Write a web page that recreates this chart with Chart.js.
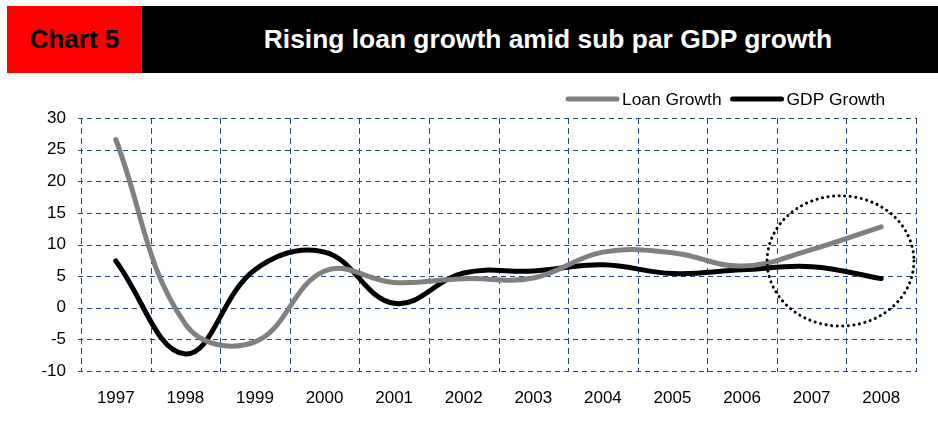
<!DOCTYPE html>
<html>
<head>
<meta charset="utf-8">
<script src="https://cdn.jsdelivr.net/npm/chart.js@4/dist/chart.umd.min.js"></script>
<style>
  body { margin: 0; background: #fff; }
  #wrap { position: relative; width: 938px; height: 428px; }
  #chart { position: absolute; left: 0; top: 0; }
  .hdr { position: absolute; top: 6px; height: 67px; line-height: 67px; font-family: "Liberation Sans", Arial, sans-serif; font-weight: bold; font-size: 26px; text-align: center; }
  #tag { left: 7px; width: 135px; background: #ff0000; color: #000; }
  #title { left: 142px; width: 796px; background: #000; color: #fff; padding-left: 16px; box-sizing: border-box; font-size: 26.4px; }
</style>
</head>
<body>
<div id="wrap">
  <canvas id="chart" width="938" height="428"></canvas>
  <div class="hdr" id="tag">Chart 5</div>
  <div class="hdr" id="title">Rising loan growth amid sub par GDP growth</div>
</div>
<script>
const years = ["1997", "1998", "1999", "2000", "2001", "2002", "2003", "2004", "2005", "2006", "2007", "2008"];
const loanGrowth = [26.6, -2.6, -5.4, 5.8, 4.0, 4.6, 4.7, 8.8, 8.7, 6.6, 9.2, 12.8];
const gdpGrowth = [7.4, -7.3, 6.0, 8.8, 0.7, 5.5, 5.8, 6.8, 5.4, 6.0, 6.5, 4.6];
// highlighted area: category index from/to, value from/to
const circleX = [9.36, 11.47];
const circleY = [-2.9, 17.7];

const gridColor = "#1F497D";
const font = { family: "'Liberation Sans', Arial, sans-serif", size: 17 };

// dashed grid, drawn by hand so the dash pattern is sure to show
const gridPlugin = {
  id: "dashGrid",
  beforeDatasetsDraw(chart) {
    const { x, y } = chart.scales;
    const a = chart.chartArea, c = chart.ctx;
    c.save();
    c.strokeStyle = gridColor;
    c.lineWidth = 1;
    c.setLineDash([5, 4]);
    y.ticks.forEach(t => {
      const py = Math.round(y.getPixelForValue(t.value)) + 0.5;
      c.beginPath();
      c.moveTo(a.left - 3, py);
      c.lineTo(a.right + 1, py);
      c.stroke();
    });
    c.setLineDash([6, 4]);
    for (let i = 0; i <= years.length; i++) {
      const px = Math.round(x.getPixelForValue(i - 0.5)) + 0.5;
      c.beginPath();
      c.moveTo(px, a.top);
      c.lineTo(px, a.bottom + 1);
      c.stroke();
    }
    c.restore();
  }
};

// dotted ellipse around the last two years
const circlePlugin = {
  id: "circle",
  afterDatasetsDraw(chart) {
    const x = chart.scales.x, y = chart.scales.y, c = chart.ctx;
    const x1 = x.getPixelForValue(circleX[0]), x2 = x.getPixelForValue(circleX[1]);
    const y1 = y.getPixelForValue(circleY[1]), y2 = y.getPixelForValue(circleY[0]);
    c.save();
    c.beginPath();
    c.ellipse((x1 + x2) / 2, (y1 + y2) / 2, (x2 - x1) / 2, (y2 - y1) / 2, 0, 0, Math.PI * 2);
    c.setLineDash([0.1, 5.5]);
    c.lineCap = "round";
    c.lineWidth = 3;
    c.strokeStyle = "#000";
    c.stroke();
    c.restore();
  }
};

// legend: line sample + label, top right
const legendPlugin = {
  id: "lineLegend",
  afterDraw(chart) {
    const c = chart.ctx;
    let x = 568;
    const yy = 99;
    c.save();
    c.font = "17.4px " + font.family;
    c.textBaseline = "middle";
    chart.data.datasets.forEach(ds => {
      c.beginPath();
      c.moveTo(x, yy);
      c.lineTo(x + 49, yy);
      c.lineWidth = 5;
      c.lineCap = "round";
      c.strokeStyle = ds.borderColor;
      c.stroke();
      x += 54;
      c.fillStyle = "#000";
      c.fillText(ds.label, x, yy + 1);
      x += c.measureText(ds.label).width + 11;
    });
    c.restore();
  }
};

new Chart(document.getElementById("chart"), {
  type: "line",
  data: {
    labels: years,
    datasets: [{
      label: "Loan Growth",
      data: loanGrowth,
      borderColor: "#808080",
      borderWidth: 5,
      pointRadius: 0,
      tension: 0.4,
      borderCapStyle: "round"
    }, {
      label: "GDP Growth",
      data: gdpGrowth,
      borderColor: "#000000",
      borderWidth: 5,
      pointRadius: 0,
      tension: 0.4,
      borderCapStyle: "round"
    }]
  },
  options: {
    responsive: false,
    animation: false,
    layout: { padding: { top: 118, right: 22, left: 0, bottom: 0 } },
    plugins: { legend: { display: false }, tooltip: { enabled: false } },
    scales: {
      x: {
        offset: true,
        grid: { offset: true, color: "rgba(0,0,0,0)", tickLength: 4 },
        border: { display: false },
        ticks: { font: font, color: "#000", padding: 13, maxRotation: 0 },
        afterFit(s) { s.height = 57; }
      },
      y: {
        min: -10,
        max: 30,
        ticks: { stepSize: 5, font: font, color: "#000", padding: 11 },
        grid: { color: "rgba(0,0,0,0)", tickLength: 4 },
        border: { display: false },
        afterFit(s) { s.width = 81; }
      }
    }
  },
  plugins: [gridPlugin, circlePlugin, legendPlugin]
});
</script>
</body>
</html>
